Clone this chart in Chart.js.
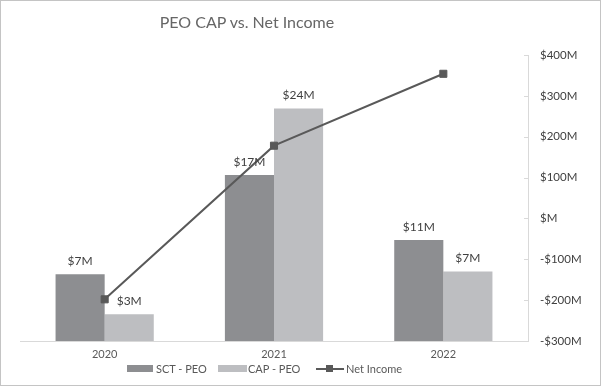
<!DOCTYPE html>
<html>
<head>
<meta charset="utf-8">
<script src="https://cdn.jsdelivr.net/npm/chart.js@4.4.1/dist/chart.umd.min.js"></script>
<style>
  body { margin:0; background:#fff; font-family:Lato, "Liberation Sans", sans-serif; }
  #wrap { position:relative; width:601px; height:386px; }
  #frame { position:absolute; left:0; top:0; width:601px; height:386px; box-sizing:border-box; border:1px solid #c4c4c4; pointer-events:none; }
  #title { position:absolute; left:0; top:12px; width:494px; text-align:center; font-size:16px; color:#666; }
  .lg { position:absolute; font-size:11px; color:#595959; line-height:12px; top:363px; }
  .box { position:absolute; top:365px; height:7px; }
</style>
</head>
<body>
<div id="wrap">
  <canvas id="chart" width="601" height="386"></canvas>
  <div id="title">PEO CAP vs. Net Income</div>
  <div class="box" style="left:127px;width:26px;background:#8d8e91"></div>
  <div class="lg" style="left:156px">SCT - PEO</div>
  <div class="box" style="left:218px;width:29px;background:#bdbec1"></div>
  <div class="lg" style="left:248px">CAP - PEO</div>
  <div class="box" style="left:316px;width:28px;height:2px;top:368px;background:#595959"></div>
  <div class="box" style="left:326px;width:7px;height:7px;top:365px;background:#595959"></div>
  <div class="lg" style="left:346px">Net Income</div>
  <div id="frame"></div>
</div>
<script>
const DARK  = '#8d8e91';
const LIGHT = '#bdbec1';
const LINE  = '#595959';
const AXIS  = '#d9d9d9';
const TEXT  = '#595959';

const years     = ['2020', '2021', '2022'];
const sctPeo    = [7.0, 17.4, 10.6];      // $M
const capPeo    = [2.8, 24.4, 7.3];       // $M
const netIncome = [-198, 178, 354];       // $M
const rightTicks = [-300, -200, -100, 0, 100, 200, 300, 400];

Chart.defaults.font.family = 'Lato, "Liberation Sans", sans-serif';
Chart.defaults.color = TEXT;

// value labels above the bars
const barLabels = {
  id: 'barLabels',
  afterDatasetsDraw(chart) {
    const ctx = chart.ctx;
    ctx.save();
    ctx.font = '12px Lato, "Liberation Sans", sans-serif';
    ctx.fillStyle = '#404040';
    ctx.textAlign = 'center';
    ctx.textBaseline = 'alphabetic';
    chart.data.datasets.forEach((ds, i) => {
      if (ds.type !== 'bar') return;
      chart.getDatasetMeta(i).data.forEach((el, j) => {
        ctx.fillText('$' + Math.round(ds.data[j]) + 'M', el.x, el.y - 9);
      });
    });
    ctx.restore();
  }
};

// small tick marks on the inner side of the right axis
const innerTicks = {
  id: 'innerTicks',
  afterDraw(chart) {
    const s = chart.scales.y1;
    const ctx = chart.ctx;
    ctx.save();
    ctx.strokeStyle = AXIS;
    ctx.lineWidth = 1;
    s.ticks.forEach((t, i) => {
      const y = Math.round(s.getPixelForTick(i)) + 0.5;
      ctx.beginPath();
      ctx.moveTo(s.left - 4, y);
      ctx.lineTo(s.left, y);
      ctx.stroke();
    });
    ctx.restore();
  }
};

new Chart(document.getElementById('chart'), {
  data: {
    labels: years,
    datasets: [
      { type: 'line', label: 'Net Income', data: netIncome, yAxisID: 'y1', order: 0,
        borderColor: LINE, backgroundColor: LINE, borderWidth: 2,
        pointStyle: 'rect', pointRadius: 5, pointBorderWidth: 1, tension: 0 },
      { type: 'bar', label: 'SCT - PEO', data: sctPeo, yAxisID: 'y', order: 1,
        backgroundColor: DARK, categoryPercentage: 0.58, barPercentage: 1 },
      { type: 'bar', label: 'CAP - PEO', data: capPeo, yAxisID: 'y', order: 1,
        backgroundColor: LIGHT, categoryPercentage: 0.58, barPercentage: 1 }
    ]
  },
  options: {
    responsive: false, animation: false,
    layout: { padding: { left: 20, top: 55, right: 0, bottom: 25 } },
    plugins: { legend: { display: false }, title: { display: false }, tooltip: { enabled: false } },
    scales: {
      x: {
        grid: { display: false, drawTicks: false },
        border: { color: AXIS },
        ticks: { font: { size: 11 }, color: TEXT, padding: 7 },
        afterFit: s => { s.height = 20; }
      },
      y: { display: false, min: 0, max: 30 },
      y1: {
        position: 'right', min: -300, max: 400,
        afterBuildTicks: s => { s.ticks = rightTicks.map(v => ({ value: v })); },
        grid: { drawOnChartArea: false, drawTicks: false },
        border: { color: AXIS },
        ticks: { font: { size: 11.5 }, color: '#404040', padding: 12,
          callback: v => (v < 0 ? '-$' : '$') + (v === 0 ? '' : Math.abs(v)) + 'M' },
        afterFit: s => { s.width = 73; }
      }
    }
  },
  plugins: [barLabels, innerTicks]
});
</script>
</body>
</html>
